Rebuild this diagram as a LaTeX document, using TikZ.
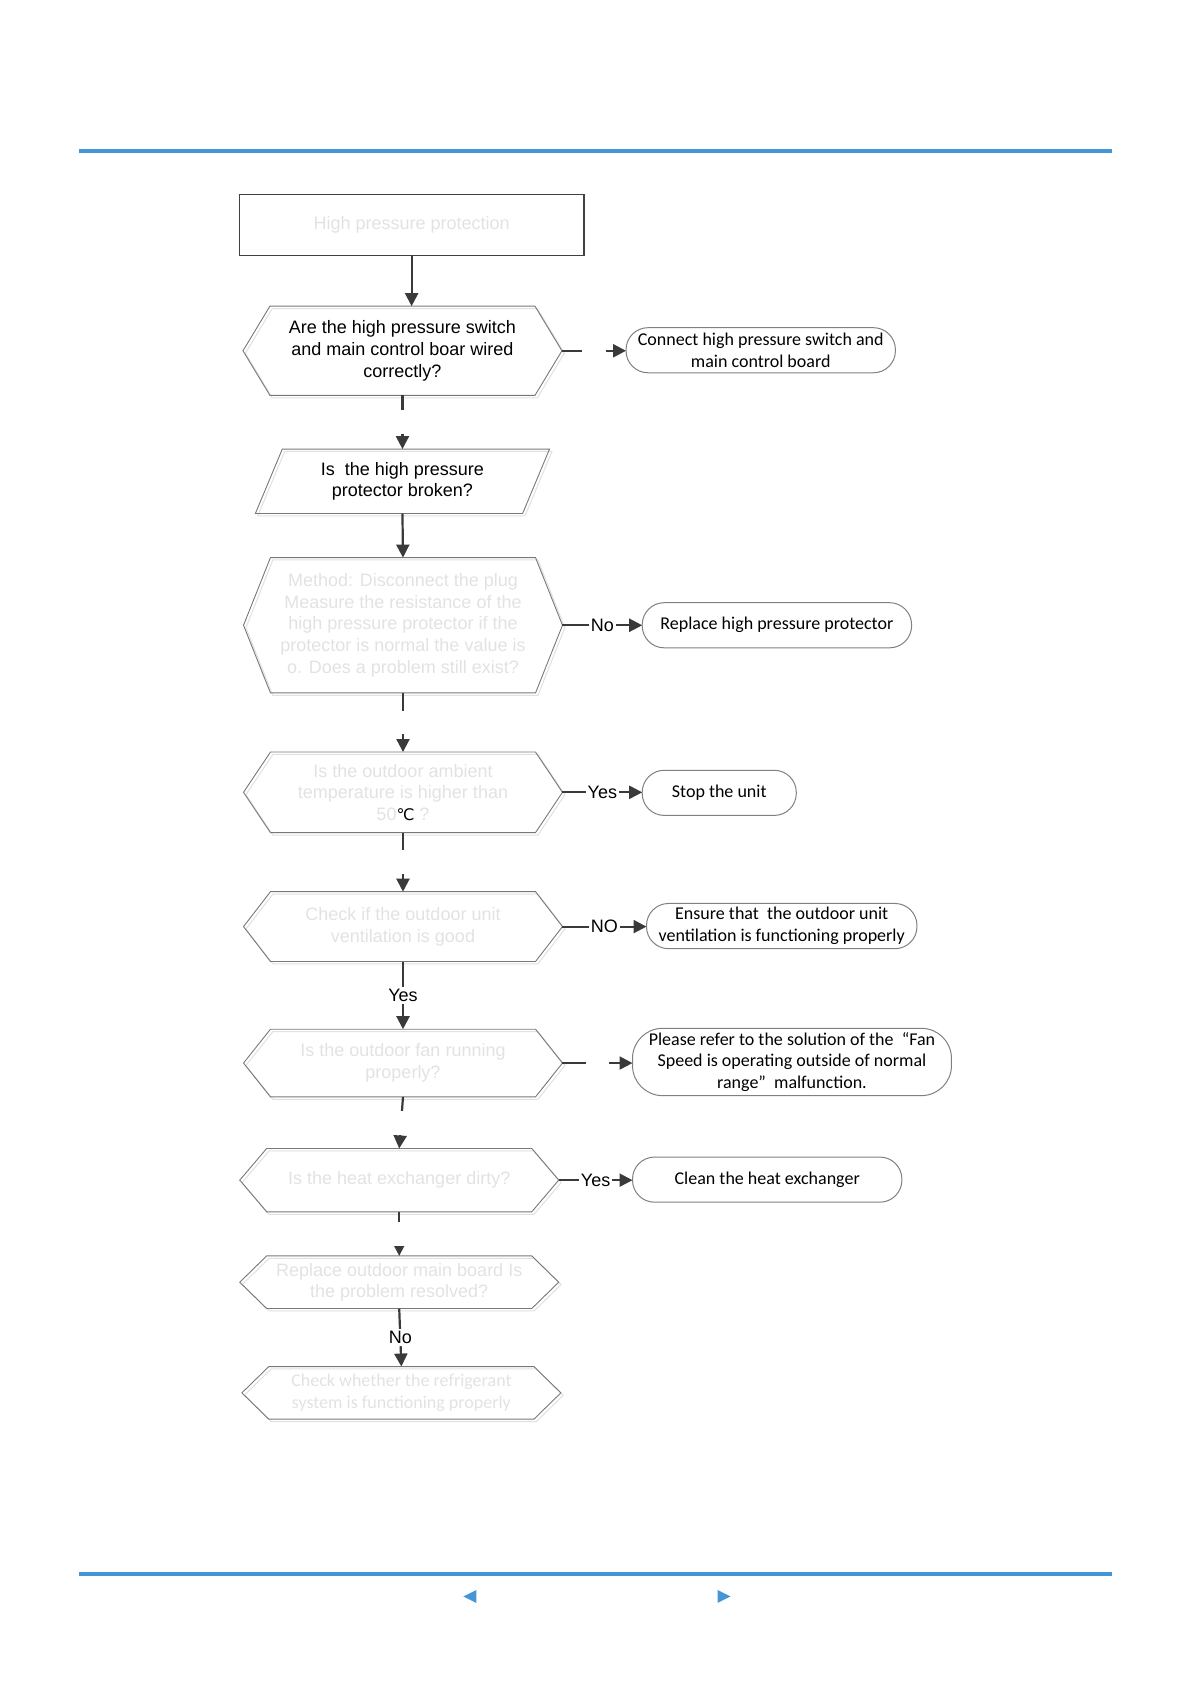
\documentclass[tikz,border=0pt]{standalone}
\usepackage{fontspec}
\setmainfont{Liberation Sans}
\newfontfamily\calibri{Carlito}
\newfontfamily\dejavu{DejaVu Sans}
\usepackage{tikz}
\usetikzlibrary{arrows.meta}
\definecolor{myblue}{RGB}{69,150,214}
\definecolor{ghost}{RGB}{226,226,226}
\definecolor{mylinegray}{RGB}{58,58,58}
\definecolor{myedgegray}{RGB}{120,120,120}
\newcommand{\px}{0.5387pt}
\newcommand{\py}{0.5371pt}
\newcommand{\hexdepth}{25*\px}
\newcommand{\widthhex}{296*\px}
\newcommand{\widthanswer}{250*\px}
\newcommand{\hexpath}[1]{([xshift=\hexdepth]#1.north west) -- ([xshift=-\hexdepth]#1.north east) -- (#1.east) -- ([xshift=-\hexdepth]#1.south east) -- ([xshift=\hexdepth]#1.south west) -- (#1.west) -- cycle}
\newcommand{\parpath}[1]{([xshift=\hexdepth]#1.north west) -- (#1.north east) -- ([xshift=-\hexdepth]#1.south east) -- (#1.south west) -- cycle}
\tikzset{
    common/.style={align=center, inner sep=2pt, outer sep=0pt, font=\fontsize{9}{10.8}\selectfont},
    question/.style={common, minimum width=\widthhex, minimum height=#1*\py},
    faint/.style={text=ghost},
    answer/.style={common, draw=black!50, line width=0.5pt, rounded corners=11pt, minimum width=\widthanswer, minimum height=42*\py, font=\calibri\fontsize{9}{10.8}\selectfont},
    outline/.style={draw=myedgegray, line width=0.45pt},
    ghostline/.style={draw=black!12, line width=0.5pt, transform canvas={shift={(1.2pt,-1.2pt)}}},
    arr/.style={draw=mylinegray, line width=1.1pt, -{Triangle[length=6.5pt,width=6.5pt]}},
    gap/.style={fill=white, inner sep=0pt, minimum size=22*\px},
    lbl/.style={fill=white, inner sep=1pt, font=\fontsize{9}{10.8}\selectfont}
}
\begin{document}
\begin{tikzpicture}[x=\px, y=-\py]
    \useasboundingbox (0,0) rectangle (1105,1567.5);

    % page rules
    \draw[myblue, line width=2pt] (73,141) -- (1032,141);
    \draw[myblue, line width=2pt] (73,1465) -- (1032,1465);
    \fill[myblue] (430,1486) -- (442,1480) -- (442,1492) -- cycle;
    \fill[myblue] (678,1486) -- (666,1480) -- (666,1492) -- cycle;

    % main column
    \node[common, faint, draw=black!75, line width=0.7pt, minimum width=320*\px, minimum height=57*\py] (start) at (382,209.5) {High pressure protection};
    \node[question=83] (Q1) at (373.5,326.5) {Are the high pressure switch\\and main control boar wired\\correctly?};
    \node[common, minimum width=273*\px, minimum height=60*\py] (Q2) at (373.5,448) {Is\ \ the high pressure\\protector broken?};
    \node[question=126, faint] (Q3) at (374,582) {Method: Disconnect the plug\\Measure the resistance of the\\high pressure protector if the\\protector is normal the value is\\o. Does a problem still exist?};
    \node[question=75, faint] (Q4) at (374,737.5) {Is the outdoor ambient\\temperature is higher than\\50{\color{black}\dejavu\fontsize{8}{10}\selectfont ℃} ?};
    \node[question=65, faint] (Q5) at (374,862.5) {Check if the outdoor unit\\ventilation is good};
    \node[question=63, faint] (Q6) at (374,989.5) {Is the outdoor fan running\\properly?};
    \node[question=59, faint] (Q7) at (370.5,1098.5) {Is the heat exchanger dirty?};
    \node[question=49, faint] (Q8) at (370.5,1193.5) {Replace outdoor main board Is\\the problem resolved?};
    \node[question=49, faint, font=\calibri\fontsize{9}{10.8}\selectfont] (Q9) at (372.5,1296.5) {Check whether the refrigerant\\system is functioning properly};

    \foreach \q in {Q1,Q3,Q4,Q5,Q6,Q7,Q8,Q9} {
        \draw[ghostline] \hexpath{\q};
        \draw[outline] \hexpath{\q};
    }
    \draw[ghostline] \parpath{Q2};
    \draw[outline] \parpath{Q2};

    % answers
    \node[answer] (R1) at (706,326) {Connect high pressure switch and\\main control board};
    \node[answer] (R2) at (721,582) {Replace high pressure protector};
    \node[answer, minimum width=143*\px] (R3) at (667.5,738) {Stop the unit};
    \node[answer, minimum width=251*\px] (R4) at (725.5,862) {Ensure that\ \ the outdoor unit\\ventilation is functioning properly};
    \node[answer, minimum width=296*\px, minimum height=61*\py, rounded corners=15pt] (R5) at (735,988.5) {Please refer to the solution of the\ \ “Fan\\Speed is operating outside of normal\\range”\ \ malfunction.};
    \node[answer] (R6) at (712,1098) {Clean the heat exchanger};

    \draw[arr] (start.south) -- (start.south |- Q1.north);
    \draw[arr] (Q1.south) -- node[gap] {} (Q2.north);
    \draw[arr] (Q2.south) -- (Q3.north);
    \draw[arr] (Q3.south) -- node[gap] {} (Q4.north);
    \draw[arr] (Q4.south) -- node[gap] {} (Q5.north);
    \draw[arr] (Q5.south) -- node[lbl] {Yes} (Q6.north);
    \draw[arr] (Q6.south) -- node[gap] {} (Q7.north);
    \draw[arr] (Q7.south) -- node[gap] {} (Q8.north);
    \draw[arr] (Q8.south) -- node[lbl] {No} (Q9.north);

    \draw[arr] (Q1.east) -- node[gap] {} (Q1.east -| R1.west);
    \draw[arr] (Q3.east) -- node[lbl] {No} (Q3.east -| R2.west);
    \draw[arr] (Q4.east) -- node[lbl] {Yes} (Q4.east -| R3.west);
    \draw[arr] (Q5.east) -- node[lbl] {NO} (Q5.east -| R4.west);
    \draw[arr] (Q6.east) -- node[gap] {} (Q6.east -| R5.west);
    \draw[arr] (Q7.east) -- node[lbl] {Yes} (Q7.east -| R6.west);
\end{tikzpicture}
\end{document}
